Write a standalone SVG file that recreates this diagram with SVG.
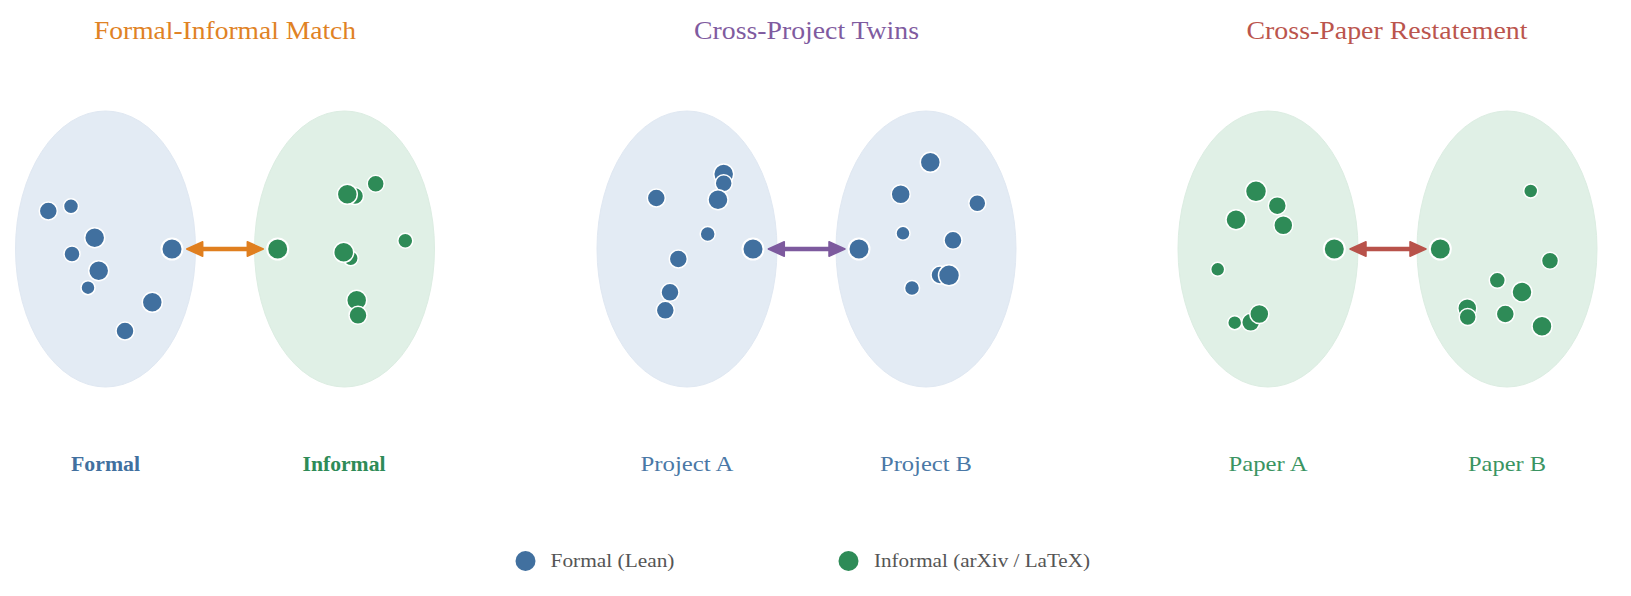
<svg xmlns="http://www.w3.org/2000/svg" width="1631" height="596" viewBox="0 0 1631 596">
<style>
  text { font-family: "Liberation Serif", "Times New Roman", serif; }
  .title { font-size: 25px; text-anchor: middle; }
  .lbl { font-size: 21px; text-anchor: middle; }
  .lblb { font-size: 20px; font-weight: bold; text-anchor: middle; }
  .leg { font-size: 18px; fill: #555555; }
  .cb { fill: #e3ebf4; stroke: #e0e8f2; stroke-width: 1; }
  .cg { fill: #e0f0e6; stroke: #dcede2; stroke-width: 1; }
  .pb { fill: #41709f; stroke: #ffffff; stroke-width: 1.5; }
  .pg { fill: #2e8b57; stroke: #ffffff; stroke-width: 1.5; }
  .anchor { stroke-width: 2; }
  .arr { stroke-width: 4.5; fill: none; }
</style>
<defs>
  <marker id="hO" viewBox="-10 -10 22 20" markerWidth="22" markerHeight="20" refX="0" refY="0" markerUnits="userSpaceOnUse" orient="auto-start-reverse">
    <path d="M-6,-7.3 L10,0 L-6,7.3 Z" fill="#e07f1f" stroke="#e07f1f" stroke-width="1.5" stroke-linejoin="round"/>
  </marker>
  <marker id="hP" viewBox="-10 -10 22 20" markerWidth="22" markerHeight="20" refX="0" refY="0" markerUnits="userSpaceOnUse" orient="auto-start-reverse">
    <path d="M-6,-7.3 L10,0 L-6,7.3 Z" fill="#7d5a9e" stroke="#7d5a9e" stroke-width="1.5" stroke-linejoin="round"/>
  </marker>
  <marker id="hR" viewBox="-10 -10 22 20" markerWidth="22" markerHeight="20" refX="0" refY="0" markerUnits="userSpaceOnUse" orient="auto-start-reverse">
    <path d="M-6,-7.3 L10,0 L-6,7.3 Z" fill="#b8524a" stroke="#b8524a" stroke-width="1.5" stroke-linejoin="round"/>
  </marker>
</defs>
<rect width="1631" height="596" fill="#ffffff"/>

<g id="titles">
  <text class="title" x="225" y="39" fill="#e08224" textLength="262" lengthAdjust="spacingAndGlyphs">Formal-Informal Match</text>
  <text class="title" x="806.5" y="39" fill="#7f5ba0" textLength="225" lengthAdjust="spacingAndGlyphs">Cross-Project Twins</text>
  <text class="title" x="1387" y="39" fill="#bb554d" textLength="281" lengthAdjust="spacingAndGlyphs">Cross-Paper Restatement</text>
</g>

<g id="formal">
  <ellipse class="cb" cx="105.5" cy="249" rx="90" ry="138"/>
  <circle class="pb" cx="48.3" cy="211" r="9"/>
  <circle class="pb" cx="71" cy="206.3" r="7.5"/>
  <circle class="pb" cx="94.7" cy="237.7" r="10"/>
  <circle class="pb" cx="72" cy="254" r="8"/>
  <circle class="pb" cx="98.7" cy="270.7" r="10"/>
  <circle class="pb" cx="88" cy="287.7" r="7"/>
  <circle class="pb" cx="152.3" cy="302.3" r="10"/>
  <circle class="pb" cx="125" cy="331" r="9"/>
  <circle class="pb anchor" cx="172" cy="249" r="10.5"/>
  <text class="lblb" x="105.5" y="471" fill="#41709f" textLength="69" lengthAdjust="spacingAndGlyphs">Formal</text>
</g>

<g id="informal">
  <ellipse class="cg" cx="344.5" cy="249" rx="90" ry="138"/>
  <circle class="pg" cx="355" cy="196" r="8.5"/>
  <circle class="pg" cx="347.3" cy="194.3" r="10"/>
  <circle class="pg" cx="375.7" cy="183.7" r="8.5"/>
  <circle class="pg" cx="405.3" cy="240.7" r="7.5"/>
  <circle class="pg" cx="350.7" cy="258.3" r="7.5"/>
  <circle class="pg" cx="343.7" cy="252.3" r="10"/>
  <circle class="pg" cx="356.7" cy="300.3" r="10"/>
  <circle class="pg" cx="358" cy="315.3" r="9"/>
  <circle class="pg anchor" cx="277.7" cy="249" r="10.5"/>
  <text class="lblb" x="344" y="471" fill="#2e8b57" textLength="83" lengthAdjust="spacingAndGlyphs">Informal</text>
</g>

<g id="project-a">
  <ellipse class="cb" cx="687" cy="249" rx="90" ry="138"/>
  <circle class="pb" cx="656.3" cy="198" r="9"/>
  <circle class="pb" cx="723.7" cy="174" r="10"/>
  <circle class="pb" cx="723.7" cy="183.3" r="8.5"/>
  <circle class="pb" cx="718" cy="199.7" r="10"/>
  <circle class="pb" cx="707.7" cy="234" r="7.5"/>
  <circle class="pb" cx="678.3" cy="259" r="9"/>
  <circle class="pb" cx="670" cy="292.3" r="9"/>
  <circle class="pb" cx="665.3" cy="310.3" r="9"/>
  <circle class="pb anchor" cx="753" cy="249" r="10.5"/>
  <text class="lbl" x="687" y="471" fill="#4a78a6" textLength="93" lengthAdjust="spacingAndGlyphs">Project A</text>
</g>

<g id="project-b">
  <ellipse class="cb" cx="926" cy="249" rx="90" ry="138"/>
  <circle class="pb" cx="930.3" cy="162.3" r="10"/>
  <circle class="pb" cx="900.7" cy="194.3" r="9.5"/>
  <circle class="pb" cx="977.3" cy="203.3" r="8.5"/>
  <circle class="pb" cx="903" cy="233.3" r="7"/>
  <circle class="pb" cx="953" cy="240.3" r="9"/>
  <circle class="pb" cx="940" cy="275" r="9"/>
  <circle class="pb" cx="949" cy="275.3" r="10.5"/>
  <circle class="pb" cx="912" cy="288" r="7.5"/>
  <circle class="pb anchor" cx="859" cy="249" r="10.5"/>
  <text class="lbl" x="926" y="471" fill="#4a78a6" textLength="92" lengthAdjust="spacingAndGlyphs">Project B</text>
</g>

<g id="paper-a">
  <ellipse class="cg" cx="1268" cy="249" rx="90" ry="138"/>
  <circle class="pg" cx="1256" cy="191.3" r="10.5"/>
  <circle class="pg" cx="1277.3" cy="205.7" r="9"/>
  <circle class="pg" cx="1236" cy="219.7" r="10"/>
  <circle class="pg" cx="1283.3" cy="225.3" r="9.5"/>
  <circle class="pg" cx="1217.7" cy="269.3" r="7"/>
  <circle class="pg" cx="1234.7" cy="322.7" r="7"/>
  <circle class="pg" cx="1250.7" cy="322.3" r="9"/>
  <circle class="pg" cx="1259.3" cy="314" r="9.5"/>
  <circle class="pg anchor" cx="1334.3" cy="249" r="10.5"/>
  <text class="lbl" x="1268" y="471" fill="#3a9462" textLength="79" lengthAdjust="spacingAndGlyphs">Paper A</text>
</g>

<g id="paper-b">
  <ellipse class="cg" cx="1507" cy="249" rx="90" ry="138"/>
  <circle class="pg" cx="1530.7" cy="191" r="7"/>
  <circle class="pg" cx="1550" cy="260.7" r="8.5"/>
  <circle class="pg" cx="1497.3" cy="280.3" r="8"/>
  <circle class="pg" cx="1522" cy="292" r="10"/>
  <circle class="pg" cx="1467.3" cy="308.3" r="9.5"/>
  <circle class="pg" cx="1467.7" cy="317" r="8.5"/>
  <circle class="pg" cx="1505.3" cy="314" r="9"/>
  <circle class="pg" cx="1542" cy="326.3" r="10"/>
  <circle class="pg anchor" cx="1440.3" cy="249" r="10.5"/>
  <text class="lbl" x="1507" y="471" fill="#3a9462" textLength="78" lengthAdjust="spacingAndGlyphs">Paper B</text>
</g>

<g id="connectors">
  <line class="arr" x1="196.7" y1="249" x2="253.3" y2="249" stroke="#e07f1f" marker-start="url(#hO)" marker-end="url(#hO)"/>
  <line class="arr" x1="778.3" y1="249" x2="835" y2="249" stroke="#7d5a9e" marker-start="url(#hP)" marker-end="url(#hP)"/>
  <line class="arr" x1="1360" y1="249" x2="1416" y2="249" stroke="#b8524a" marker-start="url(#hR)" marker-end="url(#hR)"/>
</g>

<g id="legend">
  <circle cx="525.5" cy="561" r="10" fill="#41709f"/>
  <text class="leg" x="550.5" y="567" textLength="124" lengthAdjust="spacingAndGlyphs">Formal (Lean)</text>
  <circle cx="848.5" cy="561" r="10" fill="#2e8b57"/>
  <text class="leg" x="874" y="567" textLength="216" lengthAdjust="spacingAndGlyphs">Informal (arXiv / LaTeX)</text>
</g>
</svg>
